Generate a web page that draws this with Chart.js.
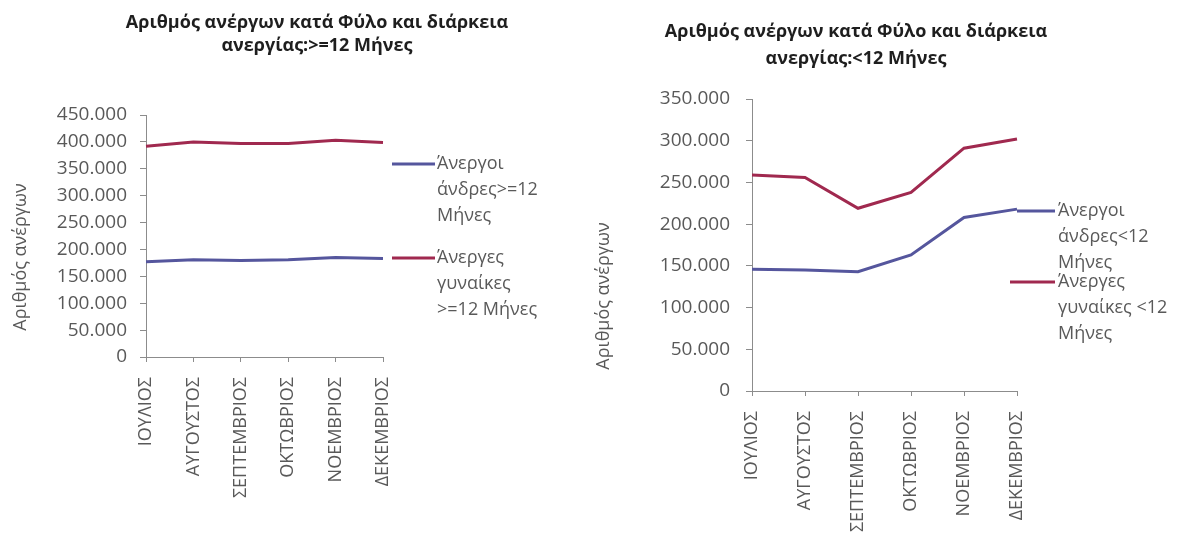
<!DOCTYPE html>
<html lang="el">
<head>
<meta charset="utf-8">
<title>Αριθμός ανέργων κατά Φύλο και διάρκεια ανεργίας</title>
<script src="https://cdn.jsdelivr.net/npm/chart.js@4.4.1/dist/chart.umd.min.js"></script>
<style>
  html, body { margin: 0; padding: 0; background: #fff; }
  #wrap { position: relative; width: 1178px; height: 535px; overflow: hidden; }
  canvas { position: absolute; top: 0; }
  #chartLong { left: 0; }
  #chartShort { left: 590px; }
</style>
</head>
<body>
<div id="wrap">
  <canvas id="chartLong" width="590" height="535"></canvas>
  <canvas id="chartShort" width="588" height="535"></canvas>
</div>
<script>
// Μήνες (άξονας x)
const months = ['ΙΟΥΛΙΟΣ', 'ΑΥΓΟΥΣΤΟΣ', 'ΣΕΠΤΕΜΒΡΙΟΣ', 'ΟΚΤΩΒΡΙΟΣ', 'ΝΟΕΜΒΡΙΟΣ', 'ΔΕΚΕΜΒΡΙΟΣ'];

// Διάρκεια ανεργίας >= 12 μήνες
const menLong = [177000, 181000, 179500, 181000, 185000, 183000];
const womenLong = [392000, 400000, 397000, 397000, 403000, 399000];

// Διάρκεια ανεργίας < 12 μήνες
const menShort = [146000, 145000, 143000, 163000, 208000, 218000];
const womenShort = [259000, 256000, 219000, 238000, 291000, 302000];

// Άξονας y
const longYMax = 450000;
const shortYMax = 350000;
const yStep = 50000;

// Κείμενα
const titleLong = ['Αριθμός ανέργων κατά Φύλο και διάρκεια', 'ανεργίας:>=12 Μήνες'];
const titleShort = ['Αριθμός ανέργων κατά Φύλο και διάρκεια', 'ανεργίας:<12 Μήνες'];
const yTitle = 'Αριθμός ανέργων';
const namesLong = [['Άνεργοι', 'άνδρες>=12', 'Μήνες'], ['Άνεργες', 'γυναίκες', '>=12 Μήνες']];
const namesShort = [['Άνεργοι', 'άνδρες<12', 'Μήνες'], ['Άνεργες', 'γυναίκες <12', 'Μήνες']];

const MEN_COLOR = '#55569d';
const WOMEN_COLOR = '#a0294f';
const AXIS_COLOR = '#8c8c8c';
const TEXT_COLOR = '#595959';
const FONT = '"Open Sans", sans-serif';

Chart.defaults.font.family = FONT;

// 150000 -> "150.000"
const fmt = v => String(v).replace(/\B(?=(\d{3})+(?!\d))/g, '.');

// Τίτλος, τίτλος άξονα y και υπόμνημα (με αναδίπλωση γραμμών)
const decorPlugin = {
    id: 'decor',
    afterDraw(chart, args, o) {
        const ctx = chart.ctx;
        const area = chart.chartArea;
        ctx.save();

        ctx.fillStyle = '#1e1e1e';
        ctx.font = `bold 18px ${FONT}`;
        ctx.textAlign = 'center';
        ctx.textBaseline = 'alphabetic';
        o.title.forEach((line, i) => ctx.fillText(line, o.titleX, o.titleY[i]));

        ctx.save();
        ctx.fillStyle = TEXT_COLOR;
        ctx.font = `18px ${FONT}`;
        ctx.textBaseline = 'middle';
        ctx.translate(o.yTitleX, o.yTitleY);
        ctx.rotate(-Math.PI / 2);
        ctx.fillText(yTitle, 0, 0);
        ctx.restore();

        ctx.font = `18px ${FONT}`;
        ctx.textAlign = 'left';
        ctx.textBaseline = 'middle';
        ctx.fillStyle = TEXT_COLOR;
        chart.data.datasets.forEach((ds, i) => {
            const y = o.legendY[i];
            ctx.strokeStyle = ds.borderColor;
            ctx.lineWidth = 3;
            ctx.beginPath();
            ctx.moveTo(area.right + o.legendLine[i][0], y);
            ctx.lineTo(area.right + o.legendLine[i][1], y);
            ctx.stroke();
            o.names[i].forEach((t, j) => ctx.fillText(t, area.right + o.legendText, y + j * o.legendGap));
        });
        ctx.restore();
    }
};

function makeChart(id, men, women, yMax, box, decor) {
    const ctx = document.getElementById(id).getContext('2d');
    return new Chart(ctx, {
        type: 'line',
        data: {
            labels: months,
            datasets: [
                { label: decor.names[0].join(' '), data: men, borderColor: MEN_COLOR, borderWidth: 3, pointRadius: 0, tension: 0 },
                { label: decor.names[1].join(' '), data: women, borderColor: WOMEN_COLOR, borderWidth: 3, pointRadius: 0, tension: 0 }
            ]
        },
        options: {
            responsive: false,
            animation: false,
            layout: { padding: { left: 0, top: box.top, right: box.right, bottom: 0 } },
            scales: {
                x: {
                    offset: false,
                    border: { display: true, color: AXIS_COLOR },
                    grid: { drawOnChartArea: false, drawTicks: true, tickLength: 5, color: AXIS_COLOR },
                    ticks: { autoSkip: false, minRotation: 90, maxRotation: 90, padding: 15, color: TEXT_COLOR, font: { size: 18 } },
                    afterFit: s => { s.height = box.xHeight; }
                },
                y: {
                    min: 0,
                    max: yMax,
                    border: { display: true, color: AXIS_COLOR },
                    grid: { drawOnChartArea: false, drawTicks: true, tickLength: 6, color: AXIS_COLOR },
                    ticks: { stepSize: yStep, padding: box.tickPad, color: TEXT_COLOR, font: { size: 19 }, callback: v => fmt(v) },
                    afterFit: s => { s.width = box.yWidth; }
                }
            },
            plugins: {
                legend: { display: false },
                title: { display: false },
                tooltip: { enabled: false },
                decor: decor
            }
        },
        plugins: [decorPlugin]
    });
}

makeChart('chartLong', menLong, womenLong, longYMax,
    { top: 115, right: 207, xHeight: 178, yWidth: 146, tickPad: 13 },
    { title: titleLong, titleX: 317, titleY: [28, 51], yTitleX: 21, yTitleY: 257,
      names: namesLong, legendY: [164, 258], legendLine: [[9, 52], [9, 52]], legendText: 54, legendGap: 26 });

makeChart('chartShort', menShort, womenShort, shortYMax,
    { top: 99, right: 161, xHeight: 144, yWidth: 162, tickPad: 16 },
    { title: titleShort, titleX: 266, titleY: [37, 64], yTitleX: 14, yTitleY: 296,
      names: namesShort, legendY: [211, 282], legendLine: [[0, 38], [-7, 38]], legendText: 41, legendGap: 26 });
</script>
</body>
</html>
